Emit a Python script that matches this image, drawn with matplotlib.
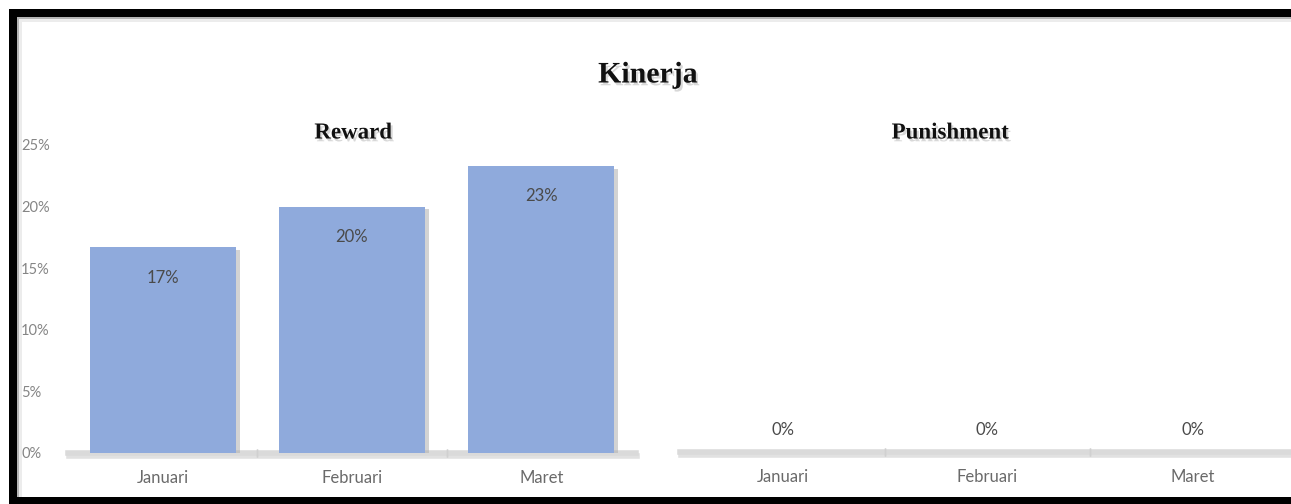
import matplotlib
matplotlib.use("Agg")
import matplotlib.pyplot as plt
import matplotlib.patheffects as pe
from matplotlib.patches import Rectangle
from matplotlib.ticker import PercentFormatter

# data
bulan = ["Januari", "Februari", "Maret"]
reward = [0.167, 0.200, 0.233]
punishment = [0.0, 0.0, 0.0]
y_ticks = [0, 0.05, 0.10, 0.15, 0.20, 0.25]

W, H = 1291, 504
BAR = "#8faadc"
GREY = "#6a6a6a"
LINE = "#dadada"

fig = plt.figure(figsize=(W / 100, H / 100), dpi=100)
fig.patch.set_facecolor("white")


def box(x0, y0, x1, y1):
    # pixel box (top-left origin) -> figure fractions
    return [x0 / W, 1 - y1 / H, (x1 - x0) / W, (y1 - y0) / H]


def rect(x0, y0, x1, y1, color):
    l, b, w, h = box(x0, y0, x1, y1)
    fig.patches.append(Rectangle((l, b), w, h, transform=fig.transFigure,
                                 facecolor=color, edgecolor="none", zorder=0))


# frame like a screenshot
rect(9, 9, W, 17, "black")
rect(9, 9, 17, 504, "black")
rect(9, 497, W, 504, "black")
rect(17, 17, W, 19, "#b4b4b4")
rect(17, 19, W, 22, "#ececec")
rect(17, 17, 19, 497, "#b4b4b4")
rect(19, 22, 22, 497, "#ececec")

shadow = [pe.SimplePatchShadow(offset=(3, -2), shadow_rgbFace="#b0b0b0", alpha=0.55), pe.Normal()]
tshadow = [pe.SimplePatchShadow(offset=(1.5, -2), shadow_rgbFace="#c8c8c8", alpha=0.7), pe.Normal()]


def title(x, y, s, size):
    fig.text(x / W, 1 - y / H, s, ha="center", va="center", fontsize=size,
             fontweight="bold", family="Liberation Serif", color="#111111",
             path_effects=tshadow)


def setup(ax):
    ax.set_xlim(-0.5, 2.5)
    ax.set_ylim(0, 0.25)
    for s in ax.spines.values():
        s.set_visible(False)
    ax.patch.set_alpha(0)
    ax.tick_params(length=0)
    ax.set_xticks(range(len(bulan)))
    ax.set_xticklabels(bulan, fontsize=12, color=GREY, family="Lato")
    ax.tick_params(axis="x", pad=12)
    # axis line
    ax.axhline(0, color=LINE, lw=4, zorder=1, clip_on=False,
               path_effects=[pe.SimpleLineShadow(offset=(1, -2), shadow_color="#c4c4c4", alpha=0.5), pe.Normal()])
    for xd in [0.5, 1.5]:
        ax.plot([xd, xd], [0, 0], marker="|", ms=6, color="#d0d0d0", clip_on=False, zorder=1)


title(648, 75, "Kinerja", 21.5)

# Reward
ax1 = fig.add_axes(box(68, 145, 636, 453))
setup(ax1)
bars = ax1.bar(range(len(bulan)), reward, width=0.77, color=BAR, zorder=2)
for b in bars:
    b.set_path_effects(shadow)
for i, v in enumerate(reward):
    ax1.annotate(f"{v:.0%}", (i, v), xytext=(0, -22), textcoords="offset points",
                 ha="center", va="center", fontsize=12, color="#4a4a4a", family="Lato")
ax1.set_yticks(y_ticks)
ax1.yaxis.set_major_formatter(PercentFormatter(1.0, decimals=0))
ax1.tick_params(axis="y", labelsize=10.5, labelcolor="#858585", pad=(68 - 21) * 0.72)
for lab in ax1.get_yticklabels():
    lab.set_horizontalalignment("left")
    lab.set_family("Lato")
title(353, 133, "Reward", 16.5)

# Punishment
ax2 = fig.add_axes(box(680, 145, 1295, 452))
setup(ax2)
ax2.bar(range(len(bulan)), punishment, width=0.77, color=BAR, zorder=2)
ax2.set_yticks([])
for i, v in enumerate(punishment):
    ax2.annotate(f"{v:.0%}", (i, v), xytext=(0, 16), textcoords="offset points",
                 ha="center", va="center", fontsize=12, color="#4a4a4a", family="Lato")
title(950, 133, "Punishment", 16.5)

fig.savefig("out.png", dpi=100)
